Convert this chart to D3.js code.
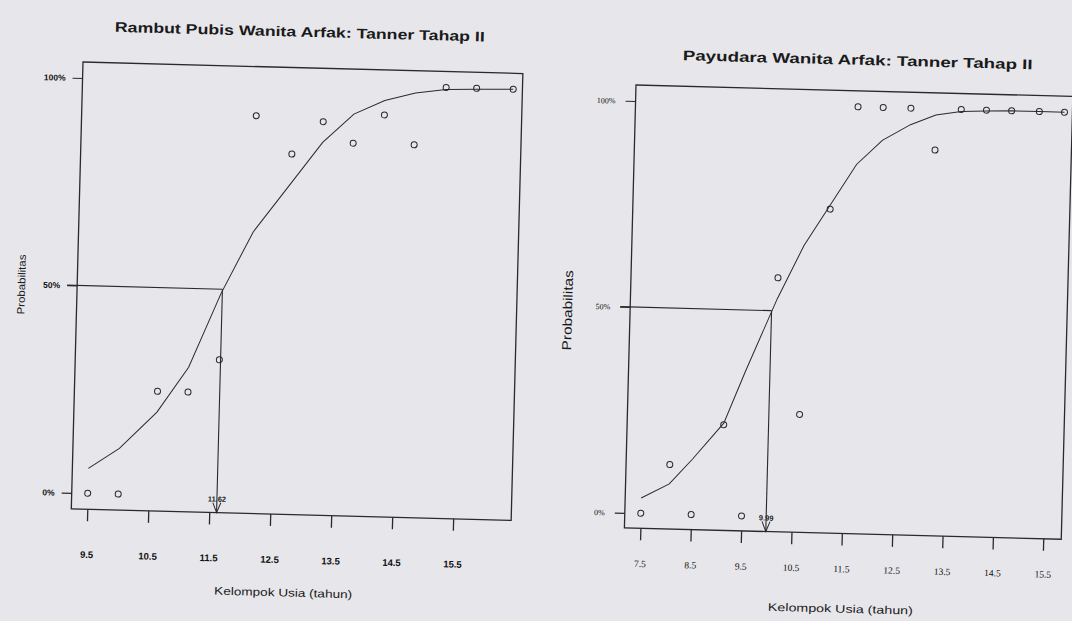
<!DOCTYPE html>
<html>
<head>
<meta charset="utf-8">
<script src="https://cdn.jsdelivr.net/npm/d3@7"></script>
<style>
  body { margin: 0; background: #e7e7eb; }
  svg { display: block; }
</style>
</head>
<body>
<div id="chart"></div>
<script>
// data (probabilities in %)
const pubisAge = [9.5, 10.0, 10.6, 11.1, 11.6, 12.1, 12.7, 13.2, 13.7, 14.2, 14.7, 15.2, 15.7, 16.3];
const pubisObs = [0, 0, 25, 25, 33, 92, 83, 91, 86, 93, 86, 100, 100, 100];
const pubisFit = [6, 11, 20, 31, 49, 64, 76, 86, 93, 96.5, 98.5, 99.5, 99.8, 100];
const pubisMedian = 11.62;
const pubisTicks = [9.5, 10.5, 11.5, 12.5, 13.5, 14.5, 15.5];

const payudaraAge = [7.5, 8.05, 8.5, 9.1, 9.5, 10.1, 10.6, 11.1, 11.6, 12.1, 12.65, 13.15, 13.65, 14.15, 14.65, 15.2, 15.7];
const payudaraObs = [0, 12, 0, 22, 0, 58, 25, 75, 100, 100, 100, 90, 100, 100, 100, 100, 100];
const payudaraFit = [3.7, 7.3, 13.5, 22.4, 35, 53, 66, 76, 86, 92, 96, 98.5, 99.5, 99.8, 100, 100, 100];
const payudaraMedian = 9.99;
const payudaraTicks = [7.5, 8.5, 9.5, 10.5, 11.5, 12.5, 13.5, 14.5, 15.5];

const probTicks = [0, 50, 100];

const svg = d3.select("#chart").append("svg")
    .attr("width", 1072)
    .attr("height", 621);

svg.append("rect").attr("width", 1072).attr("height", 621).attr("fill", "#e7e7eb");

const ink = "#2a2a2a";

function drawPanel(o) {
    // the scan is slightly tilted, so each panel is rotated a bit
    const g = svg.append("g")
        .attr("transform", `translate(${o.left},${o.top}) rotate(${o.tilt})`);

    const x = d3.scaleLinear().domain(o.xDomain).range(o.xRange);
    const y = d3.scaleLinear().domain([0, 100]).range(o.yRange);

    // frame
    g.append("rect")
        .attr("width", o.w).attr("height", o.h)
        .attr("fill", "none").attr("stroke", ink).attr("stroke-width", 1.3);

    // y axis
    const ya = g.append("g")
        .call(d3.axisLeft(y).tickValues(probTicks).tickFormat(d => d + "%").tickSize(10).tickPadding(o.yPad));
    ya.select(".domain").remove();
    ya.selectAll("line").attr("stroke", ink).attr("stroke-width", 1.2);
    ya.selectAll("text").attr("fill", "#111")
        .style("font-family", o.tickFont).style("font-size", o.yTickSize + "px")
        .style("font-weight", o.tickWeight);

    // x axis
    const xa = g.append("g")
        .attr("transform", `translate(0,${o.h})`)
        .call(d3.axisBottom(x).tickValues(o.ticks).tickFormat(d3.format(".1f")).tickSize(12).tickPadding(o.xPad));
    xa.select(".domain").remove();
    xa.selectAll("line").attr("stroke", ink).attr("stroke-width", 1.3);
    xa.selectAll("text").attr("fill", "#111")
        .style("font-family", o.tickFont).style("font-size", o.xTickSize + "px")
        .style("font-weight", o.tickWeight);

    // fitted curve
    const pts = o.age.map((a, i) => [a, o.fit[i]]);
    g.append("path")
        .datum(pts)
        .attr("fill", "none").attr("stroke", ink).attr("stroke-width", 1)
        .attr("d", d3.line().x(d => x(d[0])).y(d => y(d[1])));

    // 50% guide and arrow down to the median age
    g.append("line")
        .attr("x1", -10).attr("y1", y(50))
        .attr("x2", x(o.median)).attr("y2", y(50))
        .attr("stroke", ink).attr("stroke-width", 1.1);
    g.append("line")
        .attr("x1", x(o.median)).attr("y1", y(50))
        .attr("x2", x(o.median)).attr("y2", o.h)
        .attr("stroke", ink).attr("stroke-width", 1.1);
    g.append("path")
        .attr("d", `M${x(o.median) - 4},${o.h - 10}L${x(o.median)},${o.h}L${x(o.median) + 4},${o.h - 10}`)
        .attr("fill", "none").attr("stroke", ink).attr("stroke-width", 1);
    g.append("text")
        .attr("x", x(o.median)).attr("y", o.h - 11)
        .attr("text-anchor", "middle")
        .style("font-family", "Liberation Sans, Arial, sans-serif")
        .style("font-size", "7.5px").style("font-weight", "bold")
        .attr("fill", "#222")
        .text(d3.format(".2f")(o.median));

    // observed proportions
    g.selectAll("circle.obs")
        .data(o.age.map((a, i) => [a, o.obs[i]]))
        .join("circle")
        .attr("class", "obs")
        .attr("cx", d => x(d[0]))
        .attr("cy", d => y(d[1]))
        .attr("r", 3)
        .attr("fill", "none").attr("stroke", ink).attr("stroke-width", 1);

    // titles
    g.append("text")
        .attr("x", o.titleX).attr("y", o.titleY)
        .attr("text-anchor", "middle")
        .attr("textLength", o.titleLen).attr("lengthAdjust", "spacingAndGlyphs")
        .style("font-family", "Liberation Sans, Arial, sans-serif")
        .style("font-size", "14px").style("font-weight", "bold")
        .attr("fill", "#1a1a1a")
        .text(o.title);

    g.append("text")
        .attr("x", o.xLabX).attr("y", o.xLabY)
        .attr("text-anchor", "middle")
        .attr("textLength", o.xLabLen).attr("lengthAdjust", "spacingAndGlyphs")
        .style("font-family", "Liberation Sans, Arial, sans-serif")
        .style("font-size", "11px")
        .attr("fill", "#1a1a1a")
        .text("Kelompok Usia (tahun)");

    g.append("text")
        .attr("transform", `translate(${o.yLabX},${o.yLabY}) rotate(-90)`)
        .attr("text-anchor", "middle")
        .attr("textLength", o.yLabLen).attr("lengthAdjust", "spacingAndGlyphs")
        .style("font-family", "Liberation Sans, Arial, sans-serif")
        .style("font-size", o.yLabSize + "px")
        .attr("fill", "#1a1a1a")
        .text("Probabilitas");
}

drawPanel({
    left: 83, top: 62, tilt: 1.5, w: 440, h: 447,
    xDomain: [9.5, 15.5], xRange: [16, 382], yRange: [431, 16],
    age: pubisAge, obs: pubisObs, fit: pubisFit, median: pubisMedian, ticks: pubisTicks,
    tickFont: "Liberation Sans, Arial, sans-serif", tickWeight: "bold",
    yTickSize: 8.5, xTickSize: 9.5, yPad: 7, xPad: 30,
    title: "Rambut Pubis Wanita Arfak: Tanner Tahap II", titleX: 216, titleY: -31, titleLen: 370,
    xLabX: 214, xLabY: 529, xLabLen: 138,
    yLabX: -52, yLabY: 224, yLabLen: 60, yLabSize: 10.5
});

drawPanel({
    left: 636, top: 85, tilt: 1.5, w: 437, h: 443,
    xDomain: [7.5, 15.5], xRange: [16, 419], yRange: [428, 16],
    age: payudaraAge, obs: payudaraObs, fit: payudaraFit, median: payudaraMedian, ticks: payudaraTicks,
    tickFont: "Liberation Serif, Times New Roman, serif", tickWeight: "normal",
    yTickSize: 8, xTickSize: 9.5, yPad: 10, xPad: 20,
    title: "Payudara Wanita Arfak: Tanner Tahap II", titleX: 221, titleY: -26, titleLen: 350,
    xLabX: 218, xLabY: 522, xLabLen: 145,
    yLabX: -58, yLabY: 227, yLabLen: 80, yLabSize: 13
});
</script>
</body>
</html>
